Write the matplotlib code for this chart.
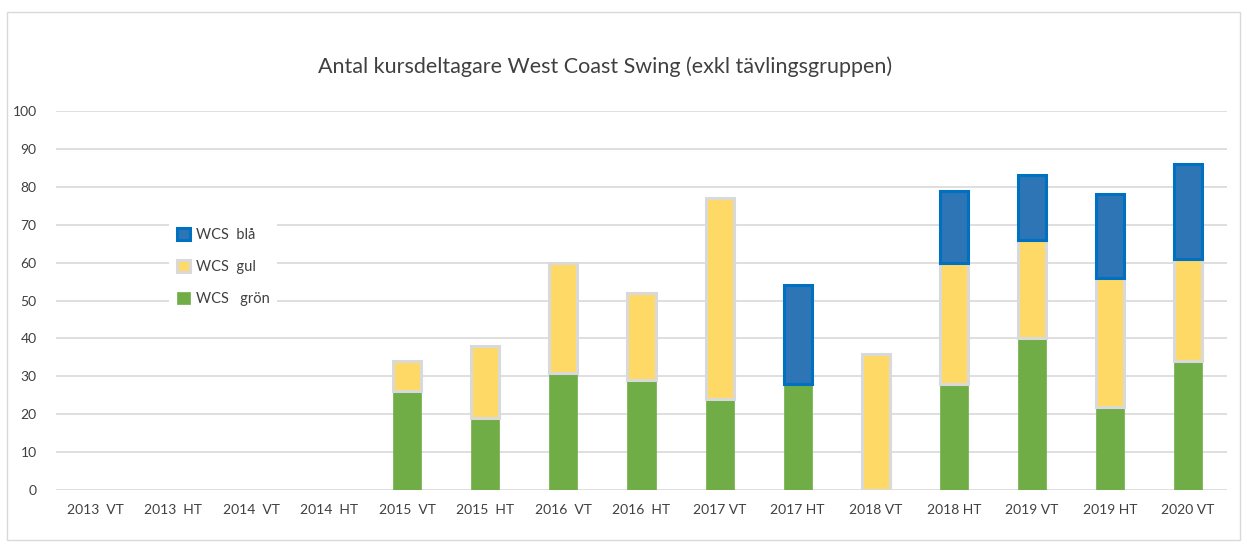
import numpy as np
import matplotlib.pyplot as plt
from matplotlib.patches import Rectangle

# kursdeltagare per termin
terms = ["2013  VT", "2013  HT", "2014  VT", "2014  HT", "2015  VT", "2015  HT",
         "2016  VT", "2016  HT", "2017 VT", "2017 HT", "2018 VT", "2018 HT",
         "2019 VT", "2019 HT", "2020 VT"]
gron = [0, 0, 0, 0, 26, 19, 31, 29, 24, 28, 0, 28, 40, 22, 34]
gul = [0, 0, 0, 0, 8, 19, 29, 23, 53, 0, 36, 32, 26, 34, 27]
bla = [0, 0, 0, 0, 0, 0, 0, 0, 0, 26, 0, 19, 17, 22, 25]

plt.rcParams['font.family'] = ['Lato', 'DejaVu Sans']

fig = plt.figure(figsize=(12.47, 5.48), dpi=100)
ax = fig.add_axes([56 / 1247, 1 - 490 / 548, (1227 - 56) / 1247, (490 - 111) / 548])

# light frame around the whole chart
fig.patches.append(Rectangle((7 / 1247, 8 / 548), 1233 / 1247, 528 / 548,
                             transform=fig.transFigure, fill=False,
                             edgecolor="#D9D9D9", linewidth=1))

x = np.arange(len(terms))
w = 0.36
gron = np.array(gron)
gul = np.array(gul)
bla = np.array(bla)

ax.bar(x, gron, w, color="#70AD47", edgecolor="#70AD47", linewidth=0.5,
       label="WCS   grön", zorder=3)
m = gul > 0
ax.bar(x[m], gul[m], w, bottom=gron[m], color="#FFD966", edgecolor="#D9D9D9",
       linewidth=2.2, label="WCS  gul", zorder=3)
m = bla > 0
ax.bar(x[m], bla[m], w, bottom=(gron + gul)[m], color="#2E75B6", edgecolor="#0070C0",
       linewidth=2.2, label="WCS  blå", zorder=3)

ax.set_xlim(-0.5, len(terms) - 0.5)
ax.set_ylim(0, 100)
ax.set_yticks(range(0, 101, 10))
ax.set_xticks(x)
ax.set_xticklabels(terms)
ax.grid(axis="y", color="#D9D9D9", linewidth=1.2, zorder=0)
for s in ax.spines.values():
    s.set_visible(False)
ax.tick_params(length=0, labelsize=10, colors="#404040")
ax.tick_params(axis="y", pad=14)
ax.tick_params(axis="x", pad=10)

fig.text(605 / 1247, 1 - 67 / 548, "Antal kursdeltagare West Coast Swing (exkl tävlingsgruppen)",
         ha="center", va="center", fontsize=15.5, color="#404040")

handles, labels = ax.get_legend_handles_labels()
leg = ax.legend(handles[::-1], labels[::-1], loc="upper left",
                bbox_to_anchor=(106 / 1171, 1 - 102 / 379), frameon=True,
                fontsize=10.5, handlelength=0.9, handleheight=0.9, labelspacing=1.25,
                handletextpad=0.4, borderpad=0.5, labelcolor="#404040")
leg.get_frame().set_edgecolor("none")
leg.get_frame().set_facecolor("white")
leg.get_frame().set_alpha(1)
leg.set_zorder(5)

fig.savefig("out.png", dpi=100, facecolor="white")
